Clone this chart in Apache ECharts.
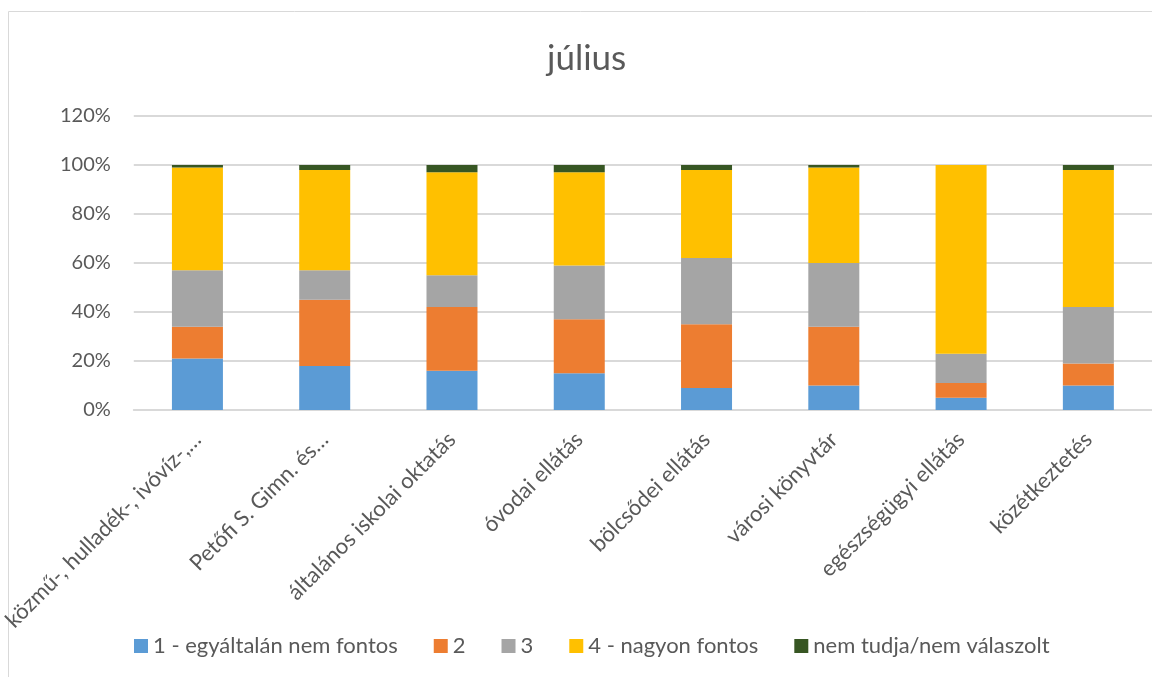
<!DOCTYPE html>
<html>
<head>
<meta charset="utf-8">
<script src="https://cdn.jsdelivr.net/npm/echarts@6/dist/echarts.min.js"></script>
<style>html,body{margin:0;padding:0;background:#fff;}#c{width:1152px;height:677px;}</style>
</head>
<body>
<div id="c"></div>
<script>
const categories = ["közmű-, hulladék-, ivóvíz-,…", "Petőfi S. Gimn. és…", "általános iskolai oktatás", "óvodai ellátás", "bölcsődei ellátás", "városi könyvtár", "egészségügyi ellátás", "közétkeztetés"];
const s1 = [21, 18, 16, 15, 9, 10, 5, 10];
const s2 = [13, 27, 26, 22, 26, 24, 6, 9];
const s3 = [23, 12, 13, 22, 27, 26, 12, 23];
const s4 = [42, 41, 42, 38, 36, 39, 77, 56];
const s5 = [1, 2, 3, 3, 2, 1, 0, 2];
const seriesNames = ["1 - egyáltalán nem fontos", "2", "3", "4 - nagyon fontos", "nem tudja/nem válaszolt"];
const colors = ["#5B9BD5", "#ED7D31", "#A5A5A5", "#FFC000", "#375623"];
const yTicks = [0, 20, 40, 60, 80, 100, 120];

const font = "Lato";
const chart = echarts.init(document.getElementById('c'));
const data = [s1, s2, s3, s4, s5];
chart.setOption({
  animation: false,
  color: colors,
  title: {
    text: "július", left: 542, top: 36,
    textStyle: {fontFamily: font, fontSize: 35, fontWeight: 'normal', color: '#595959'}
  },
  graphic: [{type: 'rect', shape: {x: 8.5, y: 11.5, width: 1200, height: 700}, style: {fill: 'none', stroke: '#d9d9d9', lineWidth: 1}, z: -1}],
  legend: {
    top: 630, left: 129, itemWidth: 14, itemHeight: 14, itemGap: 36,
    icon: 'rect',
    textStyle: {fontFamily: font, fontSize: 22, color: '#595959'},
    data: seriesNames
  },
  grid: {left: 132, right: -4, top: 116, bottom: 267, containLabel: false},
  xAxis: {
    type: 'category', data: categories,
    axisLine: {show: true, lineStyle: {color: '#d9d9d9', width: 2}},
    axisTick: {show: false},
    axisLabel: {rotate: 45, interval: 0, margin: 26, fontFamily: font, fontSize: 22, color: '#595959'}
  },
  yAxis: {
    type: 'value', min: yTicks[0], max: yTicks[yTicks.length - 1], interval: 20,
    axisLine: {show: false}, axisTick: {show: false},
    splitLine: {lineStyle: {color: '#d9d9d9', width: 2}},
    axisLabel: {formatter: '{value}%', margin: 23, fontFamily: font, fontSize: 20, color: '#595959'}
  },
  series: seriesNames.map((n, i) => ({
    name: n, type: 'bar', stack: 'total', barWidth: 51,
    data: data[i]
  }))
});
</script>
</body>
</html>
